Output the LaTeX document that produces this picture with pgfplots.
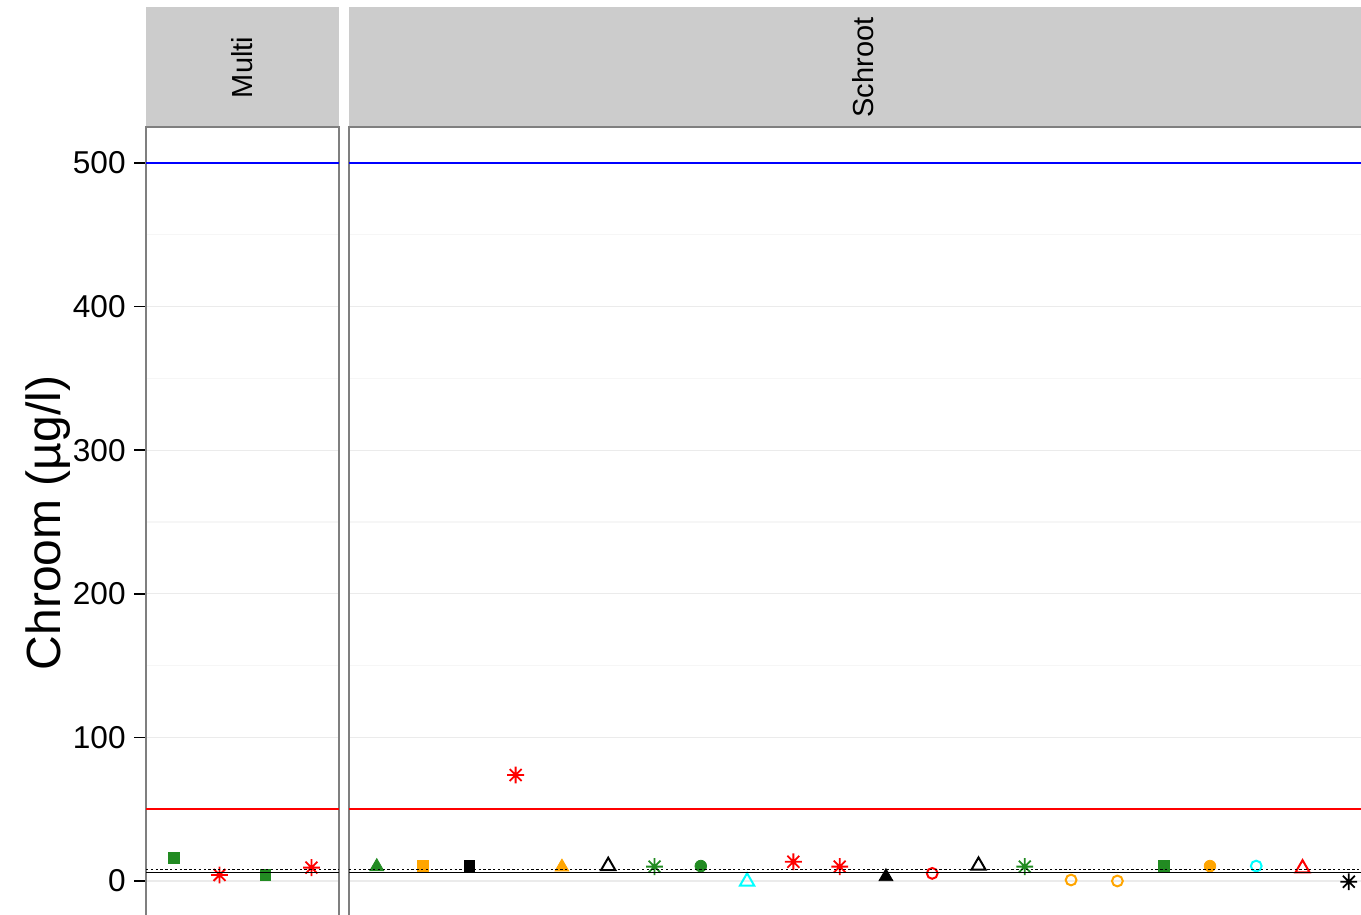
\documentclass[border=0pt]{standalone}
\usepackage{fontspec}
\setmainfont{Liberation Sans}
\usepackage{pgfplots}
\pgfplotsset{compat=1.18}

\definecolor{fgreen}{HTML}{228B22}
\definecolor{orng}{HTML}{FFA500}
\definecolor{cyn}{HTML}{00FFFF}
\definecolor{blu}{HTML}{0000FF}
\definecolor{rd}{HTML}{FF0000}
\definecolor{stripgray}{HTML}{CCCCCC}
\definecolor{bordergray}{HTML}{7F7F7F}
\definecolor{majgrid}{HTML}{EBEBEB}
\definecolor{mingrid}{HTML}{F6F6F6}

% ggplot shape 8: plus and cross on top of each other
\pgfdeclareplotmark{ast8}{%
  \pgfpathmoveto{\pgfqpoint{-\pgfplotmarksize}{0pt}}%
  \pgfpathlineto{\pgfqpoint{\pgfplotmarksize}{0pt}}%
  \pgfpathmoveto{\pgfqpoint{0pt}{-\pgfplotmarksize}}%
  \pgfpathlineto{\pgfqpoint{0pt}{\pgfplotmarksize}}%
  \pgfpathmoveto{\pgfqpoint{-0.7071\pgfplotmarksize}{-0.7071\pgfplotmarksize}}%
  \pgfpathlineto{\pgfqpoint{0.7071\pgfplotmarksize}{0.7071\pgfplotmarksize}}%
  \pgfpathmoveto{\pgfqpoint{-0.7071\pgfplotmarksize}{0.7071\pgfplotmarksize}}%
  \pgfpathlineto{\pgfqpoint{0.7071\pgfplotmarksize}{-0.7071\pgfplotmarksize}}%
  \pgfusepathqstroke}

\pgfplotsset{
  panel/.style={
    scale only axis, height=394.9pt,
    ymin=-25, ymax=525,
    axis line style={bordergray, line width=1pt},
    xtick=\empty,
    ytick={0,100,...,500}, minor ytick={50,150,...,450},
    ymajorgrids, yminorgrids,
    major grid style={majgrid, line width=0.6pt},
    minor grid style={mingrid, line width=0.6pt},
    minor tick length=0pt,
    clip mode=individual,
  },
  sqF/.style={only marks, mark=square*, mark size=2.7pt, color=#1},
  circF/.style={only marks, mark=*, mark size=2.9pt, color=#1},
  triF/.style={only marks, mark=triangle*, mark size=4pt, color=#1},
  circO/.style={only marks, mark=o, mark size=2.7pt, color=#1, mark options={line width=1pt}},
  triO/.style={only marks, mark=triangle, mark size=4.1pt, color=#1, mark options={line width=1pt}},
  ast/.style={only marks, mark=ast8, mark size=4.2pt, color=#1, mark options={line width=0.9pt}},
  hl/.style={no marks, line width=1.1pt, #1},
}

\begin{document}
\begin{tikzpicture}
\useasboundingbox (0,0) rectangle (680.5pt,457.5pt);
\clip (0,0) rectangle (680.5pt,457.5pt);

% facet strips
\fill[stripgray] (73pt,393.5pt) rectangle (169.5pt,454pt);
\fill[stripgray] (174.5pt,393.5pt) rectangle (690pt,454pt);
\node[rotate=90, font=\fontsize{14.5}{14.5}\selectfont] at (121.25pt,423.75pt) {Multi};
\node[rotate=90, font=\fontsize{14.5}{14.5}\selectfont] at (431.4pt,423.75pt) {Schroot};

\node[rotate=90, font=\fontsize{24}{24}\selectfont] at (24pt,196pt) {Chroom (µg/l)};

% Multi
\begin{axis}[panel,
    at={(73pt,-0.95pt)}, anchor=south west,
    width=96.5pt, xmin=0.4, xmax=4.6,
    ytick pos=left, tick align=outside,
    major tick length=6pt,
    ytick style={black, line width=0.85pt},
    /pgf/number format/assume math mode=true,
    yticklabel style={font=\fontsize{15.8}{15.8}\selectfont, inner sep=0pt, xshift=-4pt},
  ]
  \addplot[sqF=fgreen] coordinates {(1,16.2) (3,4.2)};
  \addplot[ast=rd] coordinates {(2,4.2) (4,9.3)};
  \addplot[hl=blu] coordinates {(0.4,500) (4.6,500)};
  \addplot[hl=rd] coordinates {(0.4,50) (4.6,50)};
  \addplot[no marks, black, line width=0.75pt] coordinates {(0.4,5.8) (4.6,5.8)};
  \addplot[no marks, black, line width=0.6pt, dash pattern=on 1.2pt off 1.2pt] coordinates {(0.4,7.9) (4.6,7.9)};
\end{axis}

% Schroot
\begin{axis}[panel,
    at={(174.5pt,-0.95pt)}, anchor=south west,
    width=513.8pt, xmin=0.4, xmax=22.6,
    yticklabels={}, major tick length=0pt,
  ]
  \addplot[triF=fgreen] coordinates {(1,10)};
  \addplot[sqF=orng] coordinates {(2,10.4)};
  \addplot[sqF=black] coordinates {(3,10.4)};
  \addplot[ast=rd] coordinates {(4,73.8) (10,13.4) (11,10)};
  \addplot[triF=orng] coordinates {(5,9.7)};
  \addplot[triO=black] coordinates {(6,10.5) (14,10.7)};
  \addplot[ast=fgreen] coordinates {(7,10) (15,10)};
  \addplot[circF=fgreen] coordinates {(8,10.4)};
  \addplot[triO=cyn] coordinates {(9,-0.3)};
  \addplot[triF=black] coordinates {(12,3)};
  \addplot[circO=rd] coordinates {(13,5.3)};
  \addplot[circO=orng] coordinates {(16,0.7) (17,0)};
  \addplot[sqF=fgreen] coordinates {(18,10.4)};
  \addplot[circF=orng] coordinates {(19,10.4)};
  \addplot[circO=cyn] coordinates {(20,10.4)};
  \addplot[triO=rd] coordinates {(21,8.8)};
  \addplot[ast=black] coordinates {(22,-0.5)};
  \addplot[hl=blu] coordinates {(0.4,500) (22.6,500)};
  \addplot[hl=rd] coordinates {(0.4,50) (22.6,50)};
  \addplot[no marks, black, line width=0.75pt] coordinates {(0.4,5.8) (22.6,5.8)};
  \addplot[no marks, black, line width=0.6pt, dash pattern=on 1.2pt off 1.2pt] coordinates {(0.4,7.9) (22.6,7.9)};
\end{axis}
\end{tikzpicture}
\end{document}
